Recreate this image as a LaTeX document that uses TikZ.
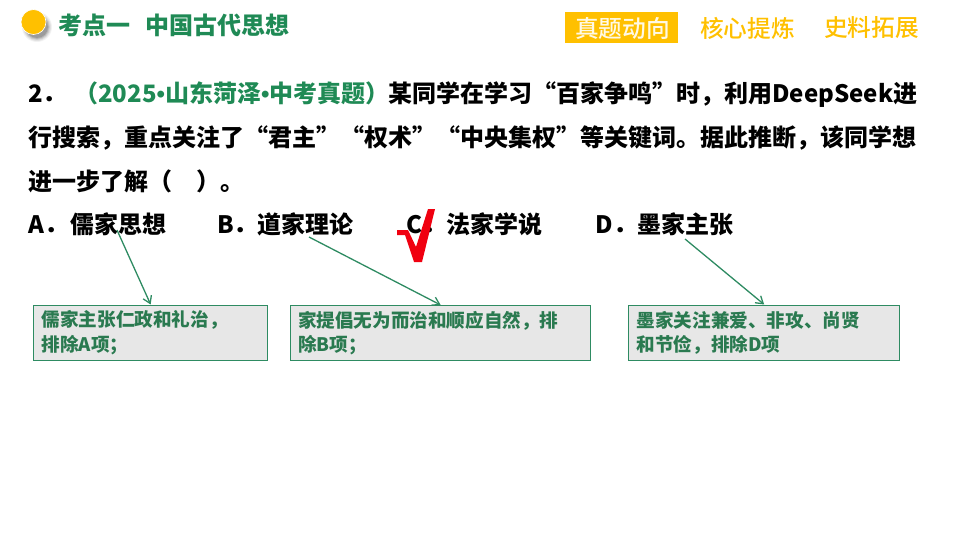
\documentclass[tikz,border=0pt]{standalone}
\usepackage{fontspec}
\setmainfont{Noto Sans CJK SC}
\newfontfamily\dotfont{Liberation Sans}
\newfontfamily\midfont{Noto Sans CJK SC Medium}
\usetikzlibrary{arrows.meta}
\definecolor{kaoGreen}{HTML}{1F8A55}
\definecolor{kaoGold}{HTML}{FFC000}
\definecolor{noteLine}{HTML}{2E8B62}
\definecolor{noteText}{HTML}{2A7A50}
\definecolor{noteFill}{HTML}{E7E7E7}
\definecolor{tickRed}{HTML}{F00010}
\newcommand{\srcdot}{{\dotfont\bfseries •}}
\tikzset{
	line/.style={anchor=base west,inner sep=0pt,font=\fontsize{24}{24}\selectfont\bfseries},
	srcline/.style={line,text=kaoGreen},
	tab/.style={anchor=base west,inner sep=0pt,text=kaoGold,font=\fontsize{23.7}{24}\midfont},
	note/.style={anchor=north west,draw=noteLine,line width=1.3pt,fill=noteFill,text=noteText,
		align=left,inner sep=0pt,minimum height=55pt,font=\fontsize{18.6}{24.5}\selectfont\bfseries},
	pointer/.style={draw=noteLine,line width=1.3pt,-{Straight Barb[length=7pt,width=9pt]}},
}
\begin{document}
\begin{tikzpicture}[x=1pt,y=-1pt]
\useasboundingbox (0,0) rectangle (960,540);
	% header
\foreach \r/\o in {15/.05,14/.07,13/.09,12/.12,11/.14}
	\fill [black,opacity=\o] (37,27) circle (\r pt);
\fill [kaoGold,draw=white,line width=.6pt] (33.5,22) circle (12.5pt);
\path
	(58,35) node [srcline] (title1) {考点一}
	(145,35) node [srcline] (title2) {中国古代思想}
	;
\fill [kaoGold] (565,12) rectangle (678,43);
\path
	(575,38) node [tab,text=white!90!kaoGold] (tab1) {真题动向}
	(700,38) node [tab] (tab2) {核心提炼}
	(824,37) node [tab] (tab3) {史料拓展}
	;
	% question
\path
	(28,103) node [line] (q1) {2．}
	(74,103) node [srcline] (src) {（2025\srcdot 山东菏泽\srcdot 中考真题）}
	(388,103) node [line] (q1b) {某同学在学习“百家争鸣”时，利用DeepSeek进}
	(28,147) node [line] (q2) {行搜索，重点关注了“君主”“权术”“中央集权”等关键词。据此推断，该同学想}
	(28,190) node [line] (q3) {进一步了解（\hspace{24pt}）。}
	;
	% options
\path
	(28,233) node [line] (optA) {A．\hspace{2pt}儒家思想}
	(217,233) node [line] (optB) {B．道家理论}
	(406,233) node [line] (optC) {C．法家学说}
	(595.5,233) node [line] (optD) {D．墨家主张}
	;
\fill [tickRed] (397,230) -- (408,230) -- (416,247) -- (428,209) -- (435,209) -- (422,262) -- (414,262) -- (405,235) -- (397,235) -- cycle;
	% notes
\path
	(33,304.5) node [note,text width=234pt] (noteA) {\hspace*{8pt}儒家主张仁政和礼治，\\\hspace*{8pt}排除A项；}
	(290,305) node [note,text width=300pt] (noteB) {\hspace*{7.5pt}家提倡无为而治和顺应自然，排\\\hspace*{7.5pt}除B项；}
	(628,304.5) node [note,text width=271pt] (noteD) {\hspace*{8pt}墨家关注兼爱、非攻、尚贤\\\hspace*{8pt}和节俭，排除D项}
	;
\coordinate (startA) at (117,230);
\coordinate (startB) at (309,237);
\coordinate (startD) at (685,239);
\draw [pointer] (startA) -- (noteA.north);
\draw [pointer] (startB) -- (noteB.north);
\draw [pointer] (startD) -- (noteD.north);
\end{tikzpicture}
\end{document}
